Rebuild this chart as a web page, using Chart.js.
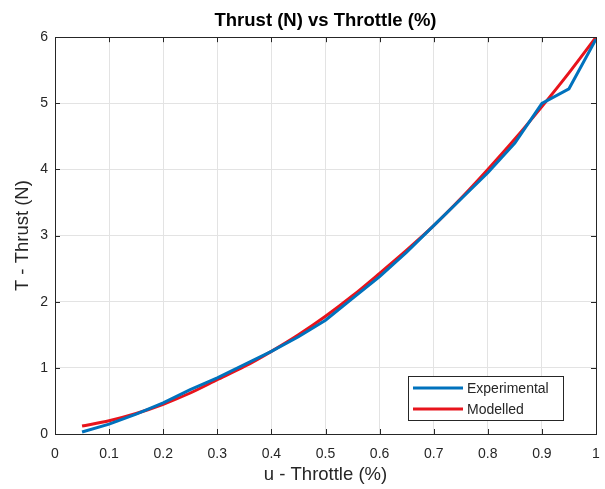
<!DOCTYPE html>
<html>
<head>
<meta charset="utf-8">
<script src="https://cdn.jsdelivr.net/npm/chart.js@4.4.0/dist/chart.umd.min.js"></script>
<style>
  html, body { margin: 0; padding: 0; background: #fff; }
  #wrap { width: 605px; height: 489px; }
</style>
</head>
<body>
<div id="wrap"><canvas id="thrust"></canvas></div>
<script>
const throttle = [0.05, 0.1, 0.15, 0.2, 0.25, 0.3, 0.35, 0.4, 0.45, 0.5,
                  0.55, 0.6, 0.65, 0.7, 0.75, 0.8, 0.85, 0.9, 0.95, 1.0];
const experimental = [0.03, 0.15, 0.3, 0.47, 0.67, 0.85, 1.05, 1.25, 1.47, 1.72,
                      2.05, 2.38, 2.75, 3.15, 3.55, 3.95, 4.4, 5.0, 5.22, 5.97];
const modelled = [0.12, 0.2, 0.31, 0.45, 0.62, 0.82, 1.02, 1.25, 1.5, 1.78,
                  2.09, 2.43, 2.78, 3.15, 3.56, 4.0, 4.46, 4.95, 5.46, 6.0];
const seriesNames = ["Experimental", "Modelled"];

const axisColor = "#262626";
const fontFamily = "'Liberation Sans', Arial, Helvetica, sans-serif";

function toPoints(xs, ys) {
    return xs.map((x, i) => ({ x: x, y: ys[i] }));
}

// box round the axes, inward ticks on all four sides and the legend box
const matlabAxes = {
    id: "matlabAxes",
    afterDraw(chart) {
        const ctx = chart.ctx;
        const area = chart.chartArea;
        const xs = chart.scales.x;
        const ys = chart.scales.y;
        const len = 5;

        ctx.save();
        ctx.strokeStyle = axisColor;
        ctx.lineWidth = 1;
        ctx.beginPath();
        xs.ticks.forEach((t) => {
            const px = Math.round(xs.getPixelForValue(t.value)) + 0.5;
            ctx.moveTo(px, area.bottom);
            ctx.lineTo(px, area.bottom - len);
            ctx.moveTo(px, area.top);
            ctx.lineTo(px, area.top + len);
        });
        ys.ticks.forEach((t) => {
            const py = Math.round(ys.getPixelForValue(t.value)) + 0.5;
            ctx.moveTo(area.left, py);
            ctx.lineTo(area.left + len, py);
            ctx.moveTo(area.right, py);
            ctx.lineTo(area.right - len, py);
        });
        ctx.stroke();
        ctx.strokeRect(Math.round(area.left) + 0.5, Math.round(area.top) + 0.5,
            Math.round(area.right - area.left), Math.round(area.bottom - area.top));

        // legend
        const lx = 408, ly = 376, lw = 155, lh = 44;
        ctx.fillStyle = "#fff";
        ctx.fillRect(lx, ly, lw, lh);
        ctx.strokeRect(lx + 0.5, ly + 0.5, lw, lh);
        ctx.font = "14px " + fontFamily;
        ctx.textBaseline = "middle";
        chart.data.datasets.forEach((ds, i) => {
            const rowY = ly + 12 + i * 21;
            ctx.strokeStyle = ds.borderColor;
            ctx.lineWidth = 3;
            ctx.beginPath();
            ctx.moveTo(lx + 5, rowY);
            ctx.lineTo(lx + 55, rowY);
            ctx.stroke();
            ctx.fillStyle = axisColor;
            ctx.fillText(ds.label, lx + 59, rowY + 1);
        });
        ctx.restore();
    }
};

new Chart(document.getElementById("thrust"), {
    type: "line",
    data: {
        datasets: [
            {
                label: seriesNames[0],
                data: toPoints(throttle, experimental),
                borderColor: "#0072BD",
                borderWidth: 3,
                pointRadius: 0,
                tension: 0,
                fill: false
            },
            {
                label: seriesNames[1],
                data: toPoints(throttle, modelled),
                borderColor: "#E8141C",
                borderWidth: 3,
                pointRadius: 0,
                tension: 0.3,
                fill: false
            }
        ]
    },
    options: {
        responsive: true,
        maintainAspectRatio: false,
        animation: false,
        layout: { padding: { top: 0, right: 9, left: 0, bottom: 0 } },
        plugins: {
            legend: { display: false },
            tooltip: { enabled: false },
            title: {
                display: true,
                fullSize: false,
                text: "Thrust (N) vs Throttle (%)",
                color: "#000",
                font: { family: fontFamily, size: 18.5, weight: "bold" },
                padding: { top: 10, bottom: 5 }
            }
        },
        scales: {
            x: {
                type: "linear",
                min: 0,
                max: 1,
                border: { display: false },
                grid: { color: "#e3e3e3", drawTicks: false },
                ticks: {
                    stepSize: 0.1,
                    padding: 12,
                    color: axisColor,
                    font: { family: fontFamily, size: 14 },
                    callback: (v) => String(+v.toFixed(1))
                },
                title: {
                    display: true,
                    text: "u - Throttle (%)",
                    color: axisColor,
                    font: { family: fontFamily, size: 18.5 },
                    padding: { top: 0, bottom: 3 }
                },
                afterFit: (scale) => {
                    scale.height = 55;
                    scale.paddingLeft = 0;
                    scale.paddingRight = 0;
                }
            },
            y: {
                min: 0,
                max: 6,
                border: { display: false },
                grid: { color: "#e3e3e3", drawTicks: false },
                ticks: {
                    stepSize: 1,
                    padding: 7,
                    color: axisColor,
                    font: { family: fontFamily, size: 14 }
                },
                title: {
                    display: true,
                    text: "T - Thrust (N)",
                    color: axisColor,
                    font: { family: fontFamily, size: 18.5 },
                    padding: { top: 12, bottom: 0 }
                },
                afterFit: (scale) => { scale.width = 55; }
            }
        }
    },
    plugins: [matlabAxes]
});
</script>
</body>
</html>
